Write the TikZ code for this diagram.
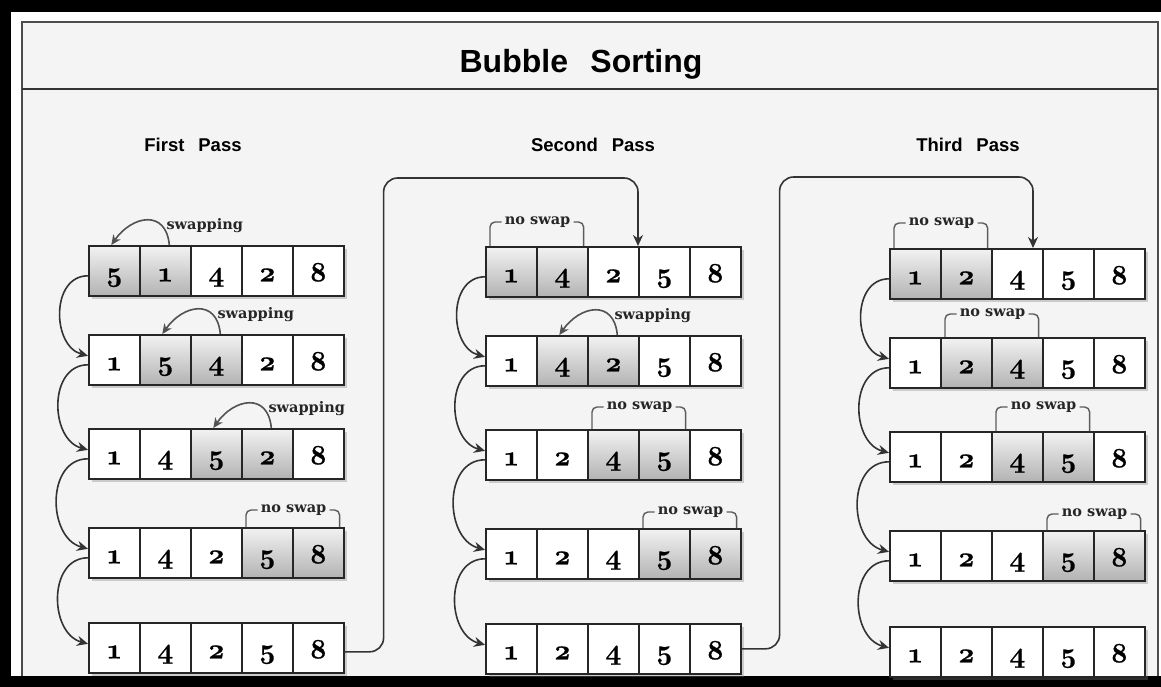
\documentclass[tikz,border=0pt]{standalone}
\usepackage{fontspec}
\setmainfont{Latin Modern Roman}
\newfontfamily\headfont{Liberation Sans}
\newfontfamily\tagfont{DejaVu Serif}
\newfontfamily\digitfont[Numbers=OldStyle, BoldFeatures={FakeBold=0.8}]{Latin Modern Roman}
\usetikzlibrary{arrows.meta,positioning,shadows}
\definecolor{panel}{HTML}{F4F4F4}
\definecolor{ink}{HTML}{333333}

% one array row: name, north-west corner, value/style pairs
\newcommand{\sortrow}[3]{%
  \foreach \val/\sty [count=\i] in {#3}
    \node[\sty, anchor=north west] (#1-\i) at ([xshift=(\i-1)*51pt]#2) {\val};
}
% curved arrow from cell #2 back to cell #1
\newcommand{\swapmark}[2]{%
  \draw[swaparr] ([xshift=4pt]#2.north) to[out=95, in=55, looseness=1.6] ([xshift=-3pt]#1.north);
  \node[tag, anchor=base west] (#2-tag) at ([xshift=1pt, yshift=16pt]#2.north) {swapping};
}
% bracket over cells #1 and #2, #3 above the row
\newcommand{\noswap}[3]{%
  \node[tag, anchor=mid, inner xsep=3pt] (#1-tag) at ([yshift=#3]#1.north east) {no swap};
  \draw[bracket] ([xshift=5pt]#1.north west) |- (#1-tag.mid west);
  \draw[bracket] ([xshift=-5pt]#2.north east) |- (#1-tag.mid east);
}

\begin{document}
\begin{tikzpicture}[
  x=1pt, y=1pt,
  cell/.style={draw=black!85, line width=1.6pt, fill=white, minimum width=51pt,
    minimum height=50pt, inner sep=0pt, text height=21pt, text depth=0pt,
    font=\digitfont\bfseries\fontsize{28pt}{28pt}\selectfont,
    drop shadow={shadow xshift=3pt, shadow yshift=-3pt, opacity=0.35}},
  pick/.style={cell, top color=gray!10, bottom color=gray!60},
  tag/.style={inner sep=0pt, text=black!85,
    font=\tagfont\bfseries\fontsize{14.5pt}{16pt}\selectfont},
  passlabel/.style={font=\headfont\bfseries\fontsize{18.5pt}{20pt}\selectfont},
  flow/.style={-{Stealth[length=11pt, width=10pt]}, line width=1.6pt, draw=ink},
  swaparr/.style={-{Stealth[length=10pt, width=9pt]}, line width=1.6pt, draw=ink!85},
  bracket/.style={line width=1.4pt, draw=ink!80, rounded corners=5pt}
]
\useasboundingbox (0,0) rectangle (1161,-687);

% frame
\fill[white] (0,0) rectangle (1161,-687);
\filldraw[fill=panel, draw=gray!60!black, line width=1.5pt] (22,-22) rectangle (1158,-680);
\fill[black] (0,0) rectangle (1161,-12);
\fill[black] (0,0) rectangle (11,-687);
\fill[black] (0,-676) rectangle (1161,-687);
\draw[gray!40!black, line width=1.5pt] (22,-89) -- (1158,-89);

\node[font=\headfont\bfseries\fontsize{32pt}{36pt}\selectfont, anchor=base] (title)
  at (581,-73) {Bubble\hspace{0.7em}Sorting};
\node[passlabel, anchor=base] (pass1) at (193,-152) {First\hspace{0.75em}Pass};
\node[passlabel, anchor=base] (pass2) at (593,-152) {Second\hspace{0.75em}Pass};
\node[passlabel, anchor=base] (pass3) at (968,-152) {Third\hspace{0.75em}Pass};

% first pass
\sortrow{p1r1}{88,-245}{5/pick,1/pick,4/cell,2/cell,8/cell}
\sortrow{p1r2}{88,-334}{1/cell,5/pick,4/pick,2/cell,8/cell}
\sortrow{p1r3}{88,-428}{1/cell,4/cell,5/pick,2/pick,8/cell}
\sortrow{p1r4}{88,-527}{1/cell,4/cell,2/cell,5/pick,8/pick}
\sortrow{p1r5}{88,-622}{1/cell,4/cell,2/cell,5/cell,8/cell}
% second pass
\sortrow{p2r1}{485,-246}{1/pick,4/pick,2/cell,5/cell,8/cell}
\sortrow{p2r2}{485,-335}{1/cell,4/pick,2/pick,5/cell,8/cell}
\sortrow{p2r3}{485,-429}{1/cell,2/cell,4/pick,5/pick,8/cell}
\sortrow{p2r4}{485,-528}{1/cell,2/cell,4/cell,5/pick,8/pick}
\sortrow{p2r5}{485,-623}{1/cell,2/cell,4/cell,5/cell,8/cell}
% third pass
\sortrow{p3r1}{889,-248}{1/pick,2/pick,4/cell,5/cell,8/cell}
\sortrow{p3r2}{889,-337}{1/cell,2/pick,4/pick,5/cell,8/cell}
\sortrow{p3r3}{889,-431}{1/cell,2/cell,4/pick,5/pick,8/cell}
\sortrow{p3r4}{889,-530}{1/cell,2/cell,4/cell,5/pick,8/pick}
\sortrow{p3r5}{889,-626}{1/cell,2/cell,4/cell,5/cell,8/cell}

\swapmark{p1r1-1}{p1r1-2}
\swapmark{p1r2-2}{p1r2-3}
\swapmark{p1r3-3}{p1r3-4}
\noswap{p1r4-4}{p1r4-5}{17pt}
\noswap{p2r1-1}{p2r1-2}{24pt}
\swapmark{p2r2-2}{p2r2-3}
\noswap{p2r3-3}{p2r3-4}{22pt}
\noswap{p2r4-4}{p2r4-5}{16pt}
\noswap{p3r1-1}{p3r1-2}{25pt}
\noswap{p3r2-2}{p3r2-3}{23pt}
\noswap{p3r3-3}{p3r3-4}{24pt}
\noswap{p3r4-4}{p3r4-5}{16pt}

% row to row
\foreach \pass in {1,2,3}
  \foreach \row/\nxt in {1/2,2/3,3/4,4/5}
    \draw[flow] ([yshift=-5pt]p\pass r\row-1.west) to[out=180, in=165, looseness=1.2]
      ([yshift=4pt]p\pass r\nxt-1.west);

% pass to pass
\draw[flow, rounded corners=14pt] ([yshift=-4pt]p1r5-5.east) -- ++(39,0)
  |- ([yshift=68pt]p2r1-4.north west) -- (p2r1-4.north west);
\draw[flow, rounded corners=14pt] (p2r5-5.east) -- ++(38,0)
  |- ([xshift=-9pt, yshift=71pt]p3r1-4.north west) -- ([xshift=-9pt]p3r1-4.north west);

\end{tikzpicture}
\end{document}
